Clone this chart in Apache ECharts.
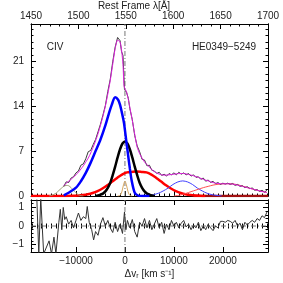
<!DOCTYPE html>
<html>
<head>
<meta charset="utf-8">
<script src="https://cdn.jsdelivr.net/npm/echarts@6/dist/echarts.min.js"></script>
<style>html,body{margin:0;padding:0;background:#fff}#c{width:283px;height:283px}</style>
</head>
<body>
<div id="c"></div>
<script>
// ---- axis ranges & tick labels ----
const VMIN = -19190, VMAX = 29220;
const lambdaTicks = [1450, 1500, 1550, 1600, 1650, 1700];
const velTicks = [-10000, 0, 10000, 20000];
const fluxTicks = [0, 7, 14, 21];
const residTicks = [-1, 0, 1];
const FMAX = 26.8, RMAX = 1.4;

// ---- observed spectrum [Δv, flux] ----
const dataFlux = [
[-12500,1.5],[-12000,2.2],[-11500,2.1],[-11000,2.8],[-10500,3.0],[-10000,3.6],[-9500,3.9],[-9000,4.8],
[-8500,5.0],[-8000,5.8],[-7500,6.9],[-7000,7.1],[-6500,8.0],[-6000,8.8],[-5500,10.0],[-5000,11.2],
[-4500,12.6],[-4000,14.1],[-3500,16.3],[-3000,18.2],[-2500,20.9],[-2000,23.2],[-1500,24.7],[-1000,24.2],
[-700,22.5],[-400,21.9],[-200,21.6],[-100,16.6],[0,16.8],[300,16.2],[700,15.2],[1000,13.6],[1500,11.9],
[2000,9.4],[2500,7.8],[3000,6.9],[3500,5.7],[4000,5.6],[4500,4.7],[5000,4.8],[5500,4.0],[6000,3.9],
[6500,3.5],[7000,3.7],[7500,3.2],[8000,3.4],[8500,3.1],[9000,3.5],[9500,3.3],[10000,3.6],[10500,3.3],
[11000,3.7],[11500,3.4],[12000,3.6],[12500,3.3],[13000,3.5],[13500,3.1],[14000,3.3],[14500,2.9],
[15000,3.0],[15500,2.6],[16000,2.8],[16500,2.3],[17000,2.5],[17500,2.1],[18000,2.3],[18500,1.9],
[19000,2.1],[19500,1.8],[20000,2.0],[20500,1.85],[21000,2.0],[21500,1.8],[22000,1.95],[22500,1.65],
[23000,1.8],[23500,1.5],[24000,1.6],[24500,1.3],[25000,1.45],[25500,1.15],[26000,1.25],[26500,0.9],
[27000,1.0],[27500,0.7],[28000,0.9],[28500,0.6],[29000,0.9]
];

// ---- total model (magenta) ----
const modelTotal = [
[-12500,1.6],[-12000,2.0],[-11500,2.3],[-11000,2.6],[-10500,2.95],[-10000,3.3],[-9500,3.7],[-9000,4.2],
[-8500,4.7],[-8000,5.3],[-7500,5.9],[-7000,6.7],[-6500,7.6],[-6000,8.6],[-5500,9.7],[-5000,11.0],
[-4500,12.4],[-4000,14.0],[-3500,15.9],[-3000,18.0],[-2500,20.5],[-2000,23.0],[-1500,24.3],[-1000,24.0],
[-700,22.8],[-400,20.5],[-200,17.2],[0,16.7],[300,16.3],[700,15.0],[1000,13.8],[1500,11.8],[2000,9.6],
[2500,7.6],[3000,6.6],[3500,5.9],[4000,5.3],[4500,4.9],[5000,4.5],[5500,4.1],[6000,3.8],[6500,3.6],
[7000,3.4],[7500,3.3],[8000,3.25],[9000,3.3],[10000,3.4],[11000,3.5],[12000,3.5],[13000,3.35],
[14000,3.15],[15000,2.9],[16000,2.6],[17000,2.35],[18000,2.1],[19000,1.95],[20000,1.9],[21000,1.9],
[22000,1.85],[23000,1.7],[24000,1.5],[25000,1.3],[26000,1.1],[27000,0.9],[28000,0.7],[29000,0.55]
];

// ---- fit components ----
const broadBlue = [
[-12500,0.1],[-11500,0.5],[-10000,1.3],[-9000,2.3],[-8000,3.6],[-7000,5.2],[-6000,7.0],[-5000,8.8],
[-4000,11.0],[-3300,12.8],[-2700,14.2],[-2000,15.4],[-1400,15.0],[-1000,14.2],[-600,12.9],[-200,11.4],
[300,8.4],[670,6.2],[1000,4.3],[1350,2.5],[2000,0.5],[2700,0.05],[3500,0],[5000,0]
];
const coreBlack = [
[-6000,0.02],[-5500,0.08],[-5000,0.2],[-4500,0.37],[-4000,0.72],[-3500,1.28],[-3000,2.07],[-2500,3.24],
[-2000,4.58],[-1500,6.01],[-1000,7.29],[-500,8.18],[0,8.5],[500,8.18],[1000,7.29],[1500,6.01],
[2000,4.58],[2500,3.24],[3000,2.07],[3500,1.28],[4000,0.72],[4500,0.37],[5000,0.2],[5500,0.08],[6000,0.02]
];
const broadRed = [
[-19190,0],[-13000,0],[-10600,0.03],[-9600,0.07],[-8600,0.14],[-7600,0.26],[-6600,0.46],[-5600,0.76],
[-4600,1.17],[-3600,1.67],[-2600,2.25],[-1600,2.82],[-600,3.33],[400,3.68],[1400,3.75],[2400,3.8],
[3400,3.75],[4400,3.68],[5400,3.33],[6400,2.82],[7400,2.25],[8400,1.67],[9400,1.17],[10400,0.76],
[11400,0.46],[12400,0.26],[13400,0.14],[14400,0.07],[15400,0.03],[16400,0]
];
const thinBlue = [
[4000,0],[4800,0.08],[5800,0.2],[6800,0.42],[7800,0.78],[8800,1.23],[9800,1.79],[10800,2.19],
[11800,2.35],[12800,2.19],[13800,1.79],[14800,1.23],[15800,0.78],[16800,0.42],[17800,0.2],[18800,0.08],[19800,0]
];
const thinRed = [
[10000,0],[11000,0.1],[12000,0.3],[13000,0.55],[14000,0.8],[15000,1.05],[16000,1.3],[17000,1.5],
[18000,1.7],[19000,1.82],[20000,1.9],[21000,1.92],[22000,1.88],[23000,1.75],[24000,1.55],[25000,1.32],
[26000,1.1],[27000,0.9],[28000,0.72],[29000,0.55]
];
const olive = [
[-15500,0],[-15000,0.1],[-14500,0.25],[-14000,0.5],[-13500,0.85],[-13000,1.2],[-12500,1.5],[-12000,1.65],
[-11500,1.6],[-11000,1.3],[-10500,0.9],[-10000,0.5],[-9500,0.2],[-9000,0.05],[-8500,0]
];
const narrowTan = [
[-1500,0],[-1200,0.03],[-900,0.18],[-600,0.75],[-300,1.73],[0,2.3],[300,1.73],[600,0.75],[900,0.18],[1200,0.03],[1500,0]
];
const baseline = [[14000,0],[29220,0]];

// ---- residuals ----
const residual = [
[-18800,1.5],[-18000,1.5],[-17600,-1.5],[-17200,1.5],[-16600,-1.5],[-16200,-1.5],[-15500,-0.8],[-15000,-1.5],
[-14500,-0.6],[-14100,-1.5],[-13500,0.2],[-13200,0.9],[-12900,-0.2],[-12600,1.0],[-12300,0.35],[-12000,0.5],
[-11500,0.1],[-11000,0.3],[-10500,-0.1],[-10000,0.3],[-9500,0.7],[-9000,0.3],[-8500,0.5],[-8000,0.4],
[-7700,1.05],[-7300,0.2],[-6800,-0.2],[-6400,-0.75],[-6000,-0.3],[-5500,-0.5],[-5000,0.1],[-4500,0.45],
[-4000,0.0],[-3500,0.3],[-3000,-0.1],[-2500,-0.35],[-2000,0.2],[-1500,-0.3],[-1000,0.1],[-500,-0.4],
[-100,0.75],[200,-0.2],[500,0.3],[1000,-0.1],[1500,0.35],[2000,-0.3],[2500,-0.6],[3000,0.2],[3500,0.0],
[4000,0.4],[4500,-0.1],[5000,0.3],[5500,-0.2],[6000,0.1],[6500,0.4],[7000,-0.1],[7500,0.2],[8000,-0.4],
[8500,0.1],[9000,-0.2],[9500,0.3],[10000,0.0],[10500,0.2],[11000,-0.1],[11500,0.15],[12000,0.3],
[12500,-0.05],[13000,0.1],[13500,-0.2],[14000,0.05],[14500,-0.1],[15000,0.2],[15500,-0.25],[16000,0.0],
[16500,-0.2],[17000,0.1],[17500,-0.1],[18000,-0.25],[18500,0.0],[19000,-0.1],[19500,0.25],[20000,0.25],
[20500,0.2],[21000,0.3],[21500,0.25],[22000,0.15],[22500,0.3],[23000,0.0],[23500,0.15],[24000,-0.2],
[24500,0.2],[25000,0.05],[25500,0.2],[26000,0.3],[26500,0.2],[27000,0.4],[27500,0.3],[28000,0.55],
[28500,0.45],[29000,0.75]
];

// ---- tick helpers (styling only) ----
const velMinor = []; for (let v = -19000; v <= 29000; v += 1000) velMinor.push(v);
const fluxMinor = []; for (let f = 0; f <= 26; f += 1) fluxMinor.push(f);
const resMinor = []; for (let r = -14; r <= 14; r += 2) resMinor.push(r / 10);

const FONT = 'Liberation Sans';
const AX = '#000', LAB = '#222';
const minus = v => String(v).replace('-', '\u2212');

function xAx(grid, pos, ticks, len, labels, extra) {
  return Object.assign({
    type: 'value', gridIndex: grid, position: pos, min: VMIN, max: VMAX,
    axisLine: {show: true, onZero: false, lineStyle: {color: AX, width: 1}},
    axisTick: {show: true, inside: true, length: len, customValues: ticks, lineStyle: {color: AX}},
    axisLabel: labels ? {show: true, customValues: velTicks, formatter: minus, color: LAB, fontSize: 10, fontFamily: FONT, margin: 4} : {show: false},
    splitLine: {show: false}
  }, extra || {});
}
function yAx(grid, pos, min, max, ticks, len, labelVals) {
  return {
    type: 'value', gridIndex: grid, position: pos, min: min, max: max,
    axisLine: {show: true, onZero: false, lineStyle: {color: AX, width: 1}},
    axisTick: {show: true, inside: true, length: len, customValues: ticks, lineStyle: {color: AX}},
    axisLabel: labelVals ? {show: true, customValues: labelVals, formatter: minus, color: LAB, fontSize: 10, fontFamily: FONT, margin: 7} : {show: false},
    splitLine: {show: false}
  };
}

function line(data, color, width, xi, yi, extra) {
  return Object.assign({
    type: 'line', data: data, xAxisIndex: xi, yAxisIndex: yi, showSymbol: false, symbol: 'none',
    lineStyle: {color: color, width: width}, silent: true, animation: false
  }, extra || {});
}

const chart = echarts.init(document.getElementById('c'), null, {renderer: 'canvas'});
chart.setOption({
  animation: false,
  backgroundColor: '#fff',
  grid: [
    {left: 31, top: 24, width: 237, height: 172},
    {left: 31, top: 200, width: 237, height: 52}
  ],
  xAxis: [
    xAx(0, 'bottom', velTicks, 5, false),
    xAx(0, 'bottom', velMinor, 2.5, false, {axisLine: {show: false}}),
    {
      type: 'value', gridIndex: 0, position: 'top', min: 1450, max: 1700, interval: 50,
      axisLine: {show: true, onZero: false, lineStyle: {color: AX}},
      axisTick: {show: true, inside: true, length: 5, lineStyle: {color: AX}},
      minorTick: {show: true, splitNumber: 5, length: 2.5, lineStyle: {color: AX}},
      axisLabel: {show: true, customValues: lambdaTicks, formatter: v => String(v), color: LAB, fontSize: 10, fontFamily: FONT, margin: 3},
      splitLine: {show: false}
    },
    xAx(1, 'bottom', velTicks, 5, true),
    xAx(1, 'bottom', velMinor, 2.5, false, {axisLine: {show: false}}),
    xAx(1, 'top', velTicks, 5, false),
    xAx(1, 'top', velMinor, 2.5, false, {axisLine: {show: false}})
  ],
  yAxis: [
    yAx(0, 'left', 0, FMAX, fluxTicks, 5, fluxTicks),
    yAx(0, 'left', 0, FMAX, fluxMinor, 2.5, null),
    yAx(0, 'right', 0, FMAX, fluxTicks, 5, null),
    yAx(0, 'right', 0, FMAX, fluxMinor, 2.5, null),
    yAx(1, 'left', -RMAX, RMAX, residTicks, 5, residTicks),
    yAx(1, 'left', -RMAX, RMAX, resMinor, 2.5, null),
    yAx(1, 'right', -RMAX, RMAX, residTicks, 5, null),
    yAx(1, 'right', -RMAX, RMAX, resMinor, 2.5, null)
  ],
  series: [
    line([[0, 0], [0, FMAX]], '#777', 1, 0, 0, {lineStyle: {color: '#777', width: 1, type: [5, 2, 1, 2]}}),
    line(baseline, '#a01010', 2.5, 0, 0),
    line(broadRed, '#ff0000', 2.5, 0, 0, {smooth: 0.3}),
    line(olive, '#9c9c74', 1, 0, 0, {smooth: 0.3}),
    line(narrowTan, '#d9a860', 1, 0, 0, {smooth: 0.3}),
    line(thinBlue, '#4040ff', 1, 0, 0, {smooth: 0.3}),
    line(thinRed, '#ff5050', 1, 0, 0, {smooth: 0.3}),
    line(coreBlack, '#000000', 2.5, 0, 0, {smooth: 0.3}),
    line(broadBlue, '#0000ff', 2.5, 0, 0, {smooth: 0.3}),
    line(dataFlux, '#3a3a3a', 1, 0, 0),
    line(modelTotal, '#e020e0', 1, 0, 0, {smooth: 0.2}),
    line([[0, -RMAX], [0, RMAX]], '#777', 1, 3, 4, {lineStyle: {color: '#777', width: 1, type: [5, 2, 1, 2]}}),
    line([[VMIN, 0], [VMAX, 0]], '#777', 1, 3, 4, {lineStyle: {color: '#777', width: 1, type: [5, 2, 1, 2]}}),
    line(residual, '#333', 1, 3, 4)
  ],
  graphic: [
    {type: 'text', style: {text: 'Rest Frame λ[Å]', x: 134, y: 6, align: 'center', verticalAlign: 'middle', fill: LAB, fontSize: 10, fontFamily: FONT}},
    {type: 'text', style: {text: 'CIV', x: 55, y: 47, align: 'center', verticalAlign: 'middle', fill: LAB, fontSize: 10, fontFamily: FONT}},
    {type: 'text', style: {text: 'HE0349\u22125249', x: 224, y: 47, align: 'center', verticalAlign: 'middle', fill: LAB, fontSize: 10, fontFamily: FONT}},
    {type: 'text', style: {
      text: '{a|Δv}{s|r}{a| [km s⁻¹]}', x: 149.5, y: 274, align: 'center', verticalAlign: 'middle',
      rich: {a: {fill: LAB, fontSize: 10, fontFamily: FONT}, s: {fill: LAB, fontSize: 7, fontFamily: FONT, padding: [5, 0, 0, 0]}}
    }}
  ]
});
</script>
</body>
</html>
